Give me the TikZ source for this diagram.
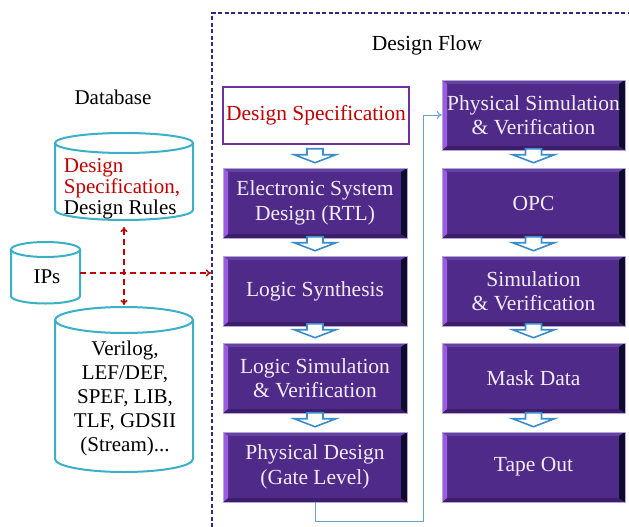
\documentclass[tikz,border=0pt]{standalone}
\usepackage{fontspec}
\setmainfont{Liberation Serif}
\usetikzlibrary{calc,arrows.meta}
\definecolor{boxfill}{HTML}{4F2A88}
\definecolor{boxedge}{HTML}{B9A2DA}
\definecolor{boxtext}{HTML}{F2ECF8}
\definecolor{bevL}{HTML}{9C5CE2}
\definecolor{bevR}{HTML}{0E0C2C}
\definecolor{bevT}{HTML}{6444A0}
\definecolor{bevB}{HTML}{3B1E6C}
\definecolor{specred}{HTML}{C00000}
\definecolor{specedge}{HTML}{7030A0}
\definecolor{cyl}{HTML}{3AAFC8}
\definecolor{arrblue}{HTML}{3A8CCB}
\definecolor{connblue}{HTML}{6A9FD2}
\definecolor{frame}{HTML}{2E2A80}
\tikzset{
  fbox/.style={rectangle, fill=boxfill, draw=boxedge, line width=0.6pt,
    minimum width=184pt, minimum height=70pt, text=boxtext, align=center,
    font=\fontsize{21.5}{24.5}\selectfont, inner sep=0pt,
    path picture={
      \coordinate (bsw) at (path picture bounding box.south west);
      \coordinate (bne) at (path picture bounding box.north east);
      \coordinate (bnw) at (path picture bounding box.north west);
      \coordinate (bse) at (path picture bounding box.south east);
      \fill[bevT] (bnw) -- (bne) -- ($(bne)+(-6pt,-4pt)$) -- ($(bnw)+(5pt,-4pt)$) -- cycle;
      \fill[bevB] (bsw) -- (bse) -- ($(bse)+(-6pt,4pt)$) -- ($(bsw)+(5pt,4pt)$) -- cycle;
      \fill[bevL] (bsw) -- (bnw) -- ($(bnw)+(5pt,-4pt)$) -- ($(bsw)+(5pt,4pt)$) -- cycle;
      \fill[bevR] (bse) -- (bne) -- ($(bne)+(-6pt,-4pt)$) -- ($(bse)+(-6pt,4pt)$) -- cycle;
    }},
  specbox/.style={rectangle, fill=white, draw=specedge, line width=1.5pt,
    minimum width=186pt, minimum height=57pt, text=specred,
    font=\fontsize{21.5}{24.5}\selectfont, inner sep=0pt},
  barrow/.style={draw=arrblue, fill=white, line width=1.6pt, line join=miter},
  cylline/.style={draw=cyl, line width=2pt},
  cyltext/.style={font=\fontsize{21}{24.2}\selectfont, align=center, inner sep=0pt},
  reddash/.style={draw=specred, line width=1.5pt, dash pattern=on 6pt off 4pt,
    {To[length=5pt,width=7pt]}-{To[length=5pt,width=7pt]}},
  reddash1/.style={draw=specred, line width=1.5pt, dash pattern=on 6pt off 4pt,
    -{To[length=5pt,width=7pt]}},
  conn/.style={draw=connblue, line width=1pt, -{To[length=5pt,width=8pt]}},
}
\begin{document}
\begin{tikzpicture}[x=1pt,y=-1pt]
\useasboundingbox (0,0) rectangle (629,527);
% frame
\draw[frame, line width=1.2pt, dash pattern=on 4pt off 2.5pt] (212,527) -- (212,13) -- (629,13);
\node[font=\fontsize{21.5}{24}\selectfont] (title) at (427,45) {Design Flow};
\node[font=\fontsize{21}{23}\selectfont] (dbtitle) at (113,97) {Database};
% left column
\node[specbox] (spec) at (316,115.5) {Design Specification};
\node[fbox] (esd) at (315,203) {Electronic System\\Design (RTL)};
\node[fbox] (ls) at (315,291) {Logic Synthesis};
\node[fbox] (lsv) at (315,378) {Logic Simulation\\\& Verification};
\node[fbox] (pd) at (315,467) {Physical Design\\(Gate Level)};
% right column
\node[fbox, minimum width=183pt] (ps) at (533.5,115) {Physical Simulation\\\& Verification};
\node[fbox, minimum width=183pt] (opc) at (533.5,203) {OPC};
\node[fbox, minimum width=183pt] (sv) at (533.5,291) {Simulation\\\& Verification};
\node[fbox, minimum width=183pt] (md) at (533.5,378) {Mask Data};
\node[fbox, minimum width=183pt] (to) at (533.5,467) {Tape Out};
% block arrows
\foreach \b in {esd,ls,lsv,pd,opc,sv,md,to}{
  \draw[barrow] (\b.north) ++(0,5pt) -- ++(-21pt,8pt) -- ++(13pt,0) -- ++(0,6pt)
     -- ++(16pt,0) -- ++(0,-6pt) -- ++(13pt,0) -- cycle;
}
% connector
\draw[conn] (pd.south) -- ++(0,19) -- ++(108,0) |- (ps.west);
% cylinders
\draw[cylline] (55,143) -- (55,210) arc[start angle=180, end angle=360, x radius=69pt, y radius=10pt] -- (193,143);
\draw[cylline] (124,143) ellipse [x radius=69pt, y radius=10pt];
\node[cyltext, align=left, font=\fontsize{21}{21}\selectfont] (c1) at (122,188.5) {\textcolor{specred}{Design}\\\textcolor{specred}{Specification,}\\Design Rules};
\coordinate (c1b) at (124,227);
\draw[cylline] (11,249.5) -- (11,296) arc[start angle=180, end angle=360, x radius=34.5pt, y radius=7.5pt] -- (80,249.5);
\draw[cylline] (45.5,249.5) ellipse [x radius=34.5pt, y radius=7.5pt];
\node[cyltext] (ips) at (47,277) {IPs};
\coordinate (ipr) at (80,273);
\draw[cylline] (55,320) -- (55,459) arc[start angle=180, end angle=360, x radius=69pt, y radius=13pt] -- (193,320);
\draw[cylline] (124,320) ellipse [x radius=69pt, y radius=13pt];
\node[cyltext] (c3) at (125,398.5) {Verilog,\\LEF/DEF,\\SPEF, LIB,\\TLF, GDSII\\(Stream)...};
\coordinate (c3t) at (124,305);
\coordinate (flowin) at (211,273);
% red dashed
\draw[reddash] (c1b) -- (c3t);
\draw[reddash1] (ipr) -- (flowin);
\end{tikzpicture}
\end{document}
